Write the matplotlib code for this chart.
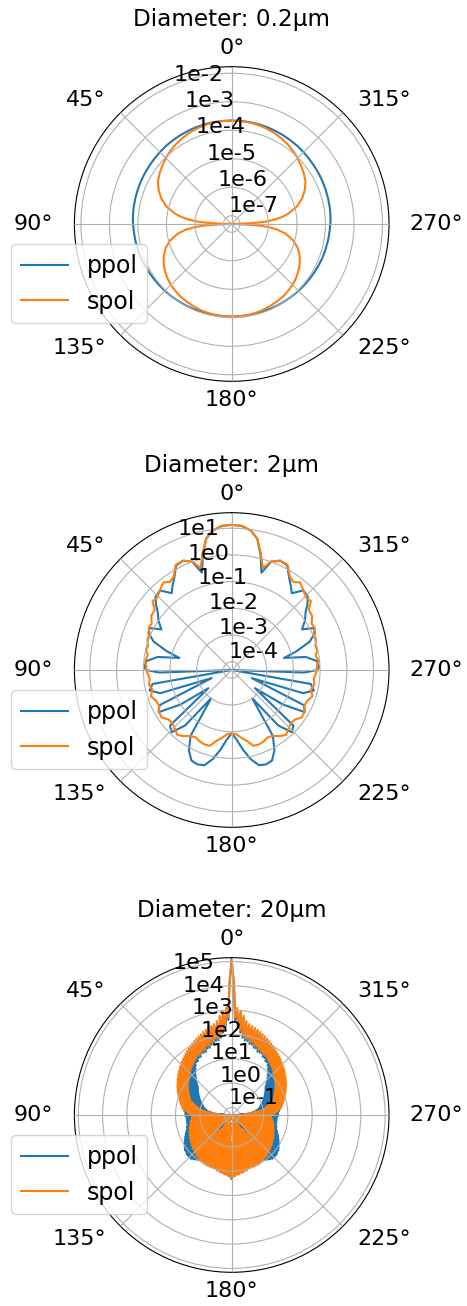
import numpy as np
import matplotlib
matplotlib.use('Agg')
import matplotlib.pyplot as plt

plt.rcParams['font.size'] = 16

# Scattered intensity (log10) versus scattering angle, 0..180 deg (mirrored to 360)

# Diameter 0.2 um
angles_02 = [0, 5, 10, 15, 20, 25, 30, 35, 40, 45, 50, 55, 60, 65, 70, 75, 80,
             82, 84, 86, 87, 88, 89, 90, 91, 92, 93, 94, 95, 97,
             100, 105, 110, 115, 120, 125, 130, 135, 140, 145, 150, 155, 160, 165, 170, 175, 180]
ppol_02 = [-3.66, -3.66, -3.66, -3.665, -3.67, -3.68, -3.69, -3.70, -3.71, -3.725, -3.74, -3.75,
           -3.76, -3.77, -3.78, -3.79, -3.80,
           -3.805, -3.81, -3.815, -3.82, -3.82, -3.825, -3.83, -3.835, -3.84, -3.84, -3.845, -3.85, -3.855,
           -3.86, -3.88, -3.89, -3.91, -3.93, -3.945, -3.96, -3.975, -3.99, -4.0, -4.01, -4.02,
           -4.03, -4.035, -4.04, -4.04, -4.04]
spol_02 = [-3.66, -3.665, -3.673, -3.695, -3.724, -3.765, -3.815, -3.873, -3.942, -4.02, -4.11, -4.20,
           -4.30, -4.46, -4.66, -4.92, -5.30,
           -5.50, -5.75, -6.10, -6.35, -6.85, -7.20, -7.27, -7.20, -6.90, -6.42, -6.17, -5.97, -5.68,
           -5.38, -5.05, -4.82, -4.66, -4.53, -4.43, -4.34, -4.27, -4.22, -4.17, -4.14, -4.11,
           -4.08, -4.06, -4.05, -4.04, -4.04]
ticks_02 = [-7, -6, -5, -4, -3, -2]
rlim_02 = (-7.29, -1.77)

# Diameter 2 um
angles_2 = [0, 4, 8, 11, 14, 17, 20, 24, 28, 32, 35, 38, 42, 46, 49, 52, 56, 60, 63, 66,
            70, 74, 77, 80, 84, 88, 90, 92, 96, 100, 104, 108, 112, 116, 120, 124, 128, 132,
            136, 140, 144, 148, 152, 156, 160, 164, 168, 172, 176, 180]
ppol_2 = [1.125, 1.10, 0.95, 0.70, 0.15, -0.50, 0.0, 0.17, 0.12, -0.25, -0.45, -0.66, -0.30,
          -0.35, -0.55, -0.80, -1.0, -1.27, -0.85, -0.90, -1.2, -1.8, -2.3, -1.5, -1.1, -1.04,
          -1.1, -1.6, -4.3, -1.3, -1.14, -1.5, -3.5, -1.3, -1.15, -2.0, -3.2, -1.2, -1.07, -1.6,
          -3.0, -1.4, -0.9, -0.6, -0.55, -0.6, -0.9, -1.3, -1.7, -1.94]
spol_2 = [1.125, 1.10, 0.95, 0.70, 0.20, -0.32, 0.02, 0.17, 0.15, -0.20, -0.28, -0.15, -0.30,
          -0.42, -0.38, -0.65, -0.68, -0.85, -0.82, -0.95, -0.95, -1.05, -1.02, -1.12, -1.05,
          -1.12, -1.10, -1.15, -1.22, -1.17, -1.25, -1.13, -1.25, -1.28, -1.17, -1.14, -1.30,
          -1.33, -1.25, -1.14, -1.25, -1.40, -1.45, -1.38, -1.34, -1.36, -1.6, -1.75, -1.9, -1.94]
ticks_2 = [-4, -3, -2, -1, 0, 1]
rlim_2 = (-4.31, 1.58)

# Diameter 20 um (one value per degree)
angles_20 = list(range(0, 181))
ppol_20 = [5.09, 4.0, 2.6, 3.0, 2.3, 2.9, 2.1, 2.7, 1.9, 2.5,
           1.8, 2.4, 1.8, 2.4, 1.7, 2.3, 1.7, 2.3, 1.6, 2.2,
           1.6, 2.2, 1.5, 2.1, 1.5, 2.1, 1.5, 2.0, 1.4, 2.0,
           1.4, 1.9, 1.3, 1.9, 1.3, 1.85, 1.2, 1.8, 1.1, 1.75,
           1.0, 1.7, 0.9, 1.65, 0.8, 1.6, 0.7, 1.55, 0.6, 1.5,
           0.5, 1.45, 0.45, 1.4, 0.4, 1.35, 0.35, 1.3, 0.3, 1.25,
           0.25, 1.2, 0.2, 1.15, 0.15, 1.1, 0.1, 1.0, 0.05, 0.95,
           0.0, 0.9, -0.05, 0.85, -0.1, 0.8, -0.15, 0.75, -0.2, 0.7,
           -0.27, 0.7, -0.4, 0.65, -0.5, 0.65, -0.7, 0.6, -1.0, 0.6,
           -1.25, 0.6, -1.0, 0.55, -0.9, 0.55, -1.2, 0.55, -0.8, 0.55,
           -1.0, 0.55, -0.7, 0.55, -1.3, 0.6, -0.6, 0.6, -0.9, 0.65,
           -0.5, 0.7, -1.1, 0.75, -0.4, 0.8, -0.8, 0.85, -0.3, 0.9,
           -1.0, 0.95, -0.3, 1.0, -0.6, 1.05, -0.2, 1.1, -0.9, 1.1,
           -0.2, 1.15, -0.5, 1.15, -0.1, 1.15, -0.8, 1.15, -0.1, 1.1,
           -0.6, 1.05, -0.2, 1.0, -1.0, 0.95, -0.3, 0.9, -0.7, 0.85,
           -0.4, 0.85, -1.2, 0.8, -0.3, 0.8, -0.8, 0.75, -0.2, 0.75,
           -1.0, 0.8, -0.3, 0.85, -0.6, 0.9, -0.2, 0.95, -0.9, 1.0,
           -0.3, 1.05, -0.5, 1.1, -0.2, 1.15, -0.4, 1.2, 0.0, 1.25,
           1.33]
spol_20 = [5.09, 4.1, 2.7, 3.1, 2.4, 3.0, 2.2, 2.8, 2.0, 2.6,
           1.9, 2.5, 1.9, 2.45, 1.8, 2.4, 1.8, 2.35, 1.7, 2.3,
           1.7, 2.25, 1.6, 2.2, 1.6, 2.15, 1.55, 2.1, 1.5, 2.05,
           1.5, 2.0, 1.45, 1.95, 1.4, 1.9, 1.35, 1.85, 1.3, 1.8,
           1.25, 1.75, 1.2, 1.7, 1.15, 1.65, 1.1, 1.6, 1.05, 1.55,
           1.0, 1.5, 0.95, 1.45, 0.9, 1.4, 0.85, 1.35, 0.8, 1.3,
           0.75, 1.25, 0.7, 1.2, 0.65, 1.15, 0.6, 1.1, 0.55, 1.05,
           0.5, 1.0, 0.4, 0.95, 0.3, 0.9, 0.2, 0.85, 0.1, 0.8,
           0.0, 0.75, -0.2, 0.7, -0.4, 0.6, -0.6, 0.5, -0.8, 0.4,
           -1.0, 0.3, -1.3, 0.3, -0.8, 0.35, -1.2, 0.35, -0.6, 0.4,
           -1.3, 0.4, -0.7, 0.45, -1.1, 0.45, -0.5, 0.5, -1.3, 0.5,
           -0.6, 0.55, -1.0, 0.55, -0.4, 0.6, -1.3, 0.6, -0.5, 0.65,
           -0.9, 0.65, -0.4, 0.7, -1.2, 0.7, -0.3, 0.75, -0.8, 0.75,
           -0.2, 0.8, -1.0, 0.8, -0.1, 0.85, -0.5, 0.85, -0.1, 0.9,
           -0.3, 0.9, -0.1, 0.9, -0.6, 0.95, -0.2, 0.95, -1.1, 0.95,
           -0.4, 1.0, -0.9, 1.0, -0.3, 1.0, -1.2, 1.0, -0.5, 1.0,
           -0.9, 1.0, -0.3, 1.0, -1.3, 1.05, -0.5, 1.05, -0.8, 1.1,
           -0.3, 1.1, -1.0, 1.15, -0.4, 1.15, -0.8, 1.2, -0.2, 1.25,
           1.29]
ticks_20 = [-1, 0, 1, 2, 3, 4, 5]
rlim_20 = (-1.31, 5.16)

panels = [
    ('0.2', angles_02, ppol_02, spol_02, ticks_02, rlim_02),
    ('2', angles_2, ppol_2, spol_2, ticks_2, rlim_2),
    ('20', angles_20, ppol_20, spol_20, ticks_20, rlim_20),
]


def mirror(angles, values):
    # data is symmetric about the forward axis
    a = np.asarray(angles, dtype=float)
    v = np.asarray(values, dtype=float)
    full_a = np.concatenate([a, 360 - a[::-1][1:]])
    full_v = np.concatenate([v, v[::-1][1:]])
    return np.radians(full_a), full_v


fig = plt.figure(figsize=(4.67, 13.06), dpi=100)
W, H = 467.0, 1306.0
radius = 157.3
centers_y = [224, 670, 1115]

for (diam, angles, ppol, spol, ticks, rlim), cy in zip(panels, centers_y):
    rect = [(231.7 - radius) / W, (H - cy - radius) / H, 2 * radius / W, 2 * radius / H]
    ax = fig.add_axes(rect, projection='polar')
    ax.set_theta_zero_location('N')
    ax.set_axisbelow(False)
    th, vp = mirror(angles, ppol)
    _, vs = mirror(angles, spol)
    ax.plot(th, vp, label='ppol')
    ax.plot(th, vs, label='spol')
    ax.set_ylim(*rlim)
    ax.set_yticks(ticks)
    ax.set_yticklabels([f'1e{t}' for t in ticks])

    # angle labels, anchored on the side facing the circle
    ax.set_xticks(np.radians(np.arange(0, 360, 45)))
    ax.set_xticklabels([])
    for deg in range(0, 360, 45):
        t = np.radians(deg)
        dx, dy = -np.sin(t), np.cos(t)
        ha = 'center' if abs(dx) < 0.1 else ('left' if dx > 0 else 'right')
        va = 'center' if abs(dy) < 0.1 else ('bottom' if dy > 0 else 'top')
        ax.annotate(f'{deg}°', xy=(t, rlim[1]), xytext=(15 * dx, 6 * dy ** 3),
                    textcoords='offset points', ha=ha, va=va, fontsize=16,
                    annotation_clip=False)

    ax.set_title(f'Diameter: {diam}µm', y=1.129, pad=0, fontsize=16.7)
    leg = ax.legend(loc='lower left', bbox_to_anchor=(-0.20, 0.185), borderaxespad=0, fontsize=17)
    leg.set_zorder(5)

fig.savefig('out.png', dpi=100)
